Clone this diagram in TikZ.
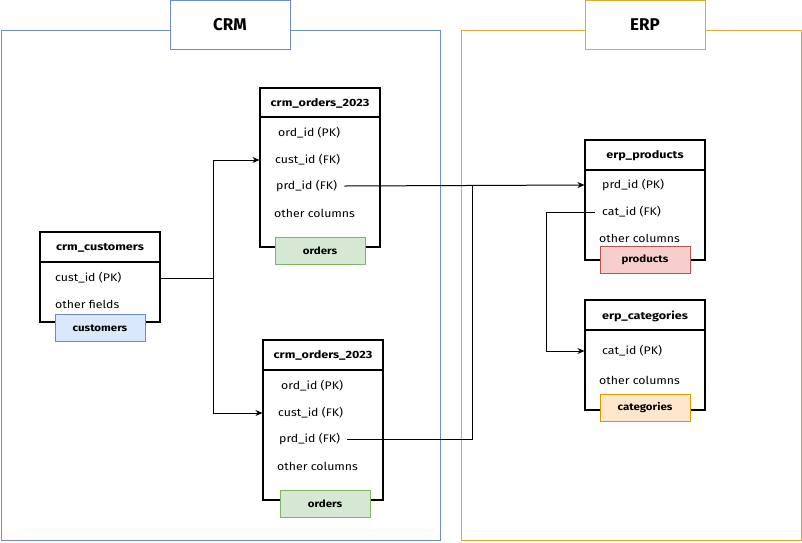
\documentclass[tikz,border=0pt]{standalone}
\usepackage{fontspec}
\setmainfont{Fira Sans}
\newfontfamily\hdrfont[FakeStretch=1.2]{Fira Sans}
\newfontfamily\rowfont[FakeStretch=1.12]{Fira Sans}
\newfontfamily\tagfont[FakeStretch=1.15]{Fira Sans}
\usetikzlibrary{arrows.meta}
\definecolor{crmblue}{HTML}{6C8EBF}
\definecolor{erpgold}{HTML}{D6AD3A}
\definecolor{ordfill}{HTML}{D5E8D4}
\definecolor{ordline}{HTML}{82B366}
\definecolor{cusfill}{HTML}{DAE8FC}
\definecolor{prdfill}{HTML}{F8CECC}
\definecolor{prdline}{HTML}{B85450}
\definecolor{catfill}{HTML}{FFE6CC}
\definecolor{catline}{HTML}{D79B00}
\tikzset{
  container/.style={line width=1pt},
  titlebox/.style={draw, fill=white, line width=1pt, minimum width=120pt, minimum height=49pt, font=\fontsize{17}{20}\selectfont\bfseries},
  tbl/.style={draw=black, line width=1.1pt, fill=white, minimum width=120pt, inner sep=0pt},
  hdr/.style={font=\hdrfont\fontsize{10.5}{12}\selectfont\bfseries, inner sep=0pt},
  rowtxt/.style={font=\rowfont\fontsize{11}{13}\selectfont, inner sep=1pt, anchor=west},
  tag/.style={draw, line width=0.8pt, minimum width=90pt, minimum height=27pt, inner sep=0pt, font=\tagfont\fontsize{10}{12}\selectfont\bfseries},
  conn/.style={draw=black, line width=1pt},
  fk/.style={conn, -{Stealth[length=7pt,width=6pt]}},
}
\begin{document}
\begin{tikzpicture}[x=1pt,y=-1pt]
\useasboundingbox (0,0) rectangle (802,542);
% containers
\draw[container, crmblue] (1,30) rectangle (440,540);
\node[titlebox, draw=crmblue] (crmt) at (230,25) {CRM};
\draw[container, erpgold] (461,30) rectangle (801,540);
\node[titlebox, draw=erpgold] (erpt) at (645,25) {ERP};

% crm_customers
\node[tbl, minimum height=90pt] (cus) at (100,277) {};
\draw[line width=1.1pt] (40,262) -- (160,262);
\node[hdr] (cush) at (100,248) {crm\_customers};
\node[rowtxt] (cuspk) at (54,278) {cust\_id (PK)};
\node[rowtxt] (cusof) at (54,304) {other fields};
\node[tag, fill=cusfill, draw=crmblue] (custag) at (100,328) {customers};

% crm_orders_2023 top
\node[tbl, minimum height=159pt] (oa) at (320,167.5) {};
\draw[line width=1.1pt] (260,117) -- (380,117);
\node[hdr] (oah) at (320,103) {crm\_orders\_2023};
\node[rowtxt] (oaord) at (277,133) {ord\_id (PK)};
\node[rowtxt] (oacust) at (274,160) {cust\_id (FK)};
\node[rowtxt] (oaprd) at (275,186) {prd\_id (FK)};
\node[rowtxt] (oaoth) at (273,213) {other columns};
\node[tag, fill=ordfill, draw=ordline] (oatag) at (320,251) {orders};

% crm_orders_2023 bottom
\node[tbl, minimum height=160pt] (ob) at (323,420) {};
\draw[line width=1.1pt] (263,370) -- (383,370);
\node[hdr] (obh) at (323,355) {crm\_orders\_2023};
\node[rowtxt] (obord) at (280,386) {ord\_id (PK)};
\node[rowtxt] (obcust) at (277,413) {cust\_id (FK)};
\node[rowtxt] (obprd) at (278,439) {prd\_id (FK)};
\node[rowtxt] (oboth) at (276,466) {other columns};
\node[tag, fill=ordfill, draw=ordline] (obtag) at (325,504) {orders};

% erp_products
\node[tbl, minimum height=120pt] (pr) at (645,200) {};
\draw[line width=1.1pt] (585,170) -- (705,170);
\node[hdr] (prh) at (645,156) {erp\_products};
\node[rowtxt] (prpk) at (601,185) {prd\_id (PK)};
\node[rowtxt] (prcat) at (601,212) {cat\_id (FK)};
\node[rowtxt] (proth) at (598,238) {other columns};
\node[tag, fill=prdfill, draw=prdline] (prtag) at (645,260) {products};

% erp_categories
\node[tbl, minimum height=110pt] (ca) at (645,355) {};
\draw[line width=1.1pt] (585,330) -- (705,330);
\node[hdr] (cah) at (645,316) {erp\_categories};
\node[rowtxt] (capk) at (601,351) {cat\_id (PK)};
\node[rowtxt] (caoth) at (598,380) {other columns};
\node[tag, fill=catfill, draw=catline] (catag) at (645,408) {categories};

% connectors
\coordinate (j0) at (213,278);
\draw[fk] (cuspk -| cus.east) -- (j0) |- (oacust.west -| oa.west);
\draw[fk] (j0) |- (obcust.west -| ob.west);
\draw[fk] ([xshift=6pt]oaprd.east) -- (prpk.west -| pr.west);
\coordinate (j1) at (472,186);
\draw[conn] ([xshift=6pt]obprd.east) -| (j1);
\coordinate (j2) at (546,212);
\draw[fk] ([xshift=-6pt]prcat.west) -- (j2) |- (capk.west -| ca.west);
\end{tikzpicture}
\end{document}
